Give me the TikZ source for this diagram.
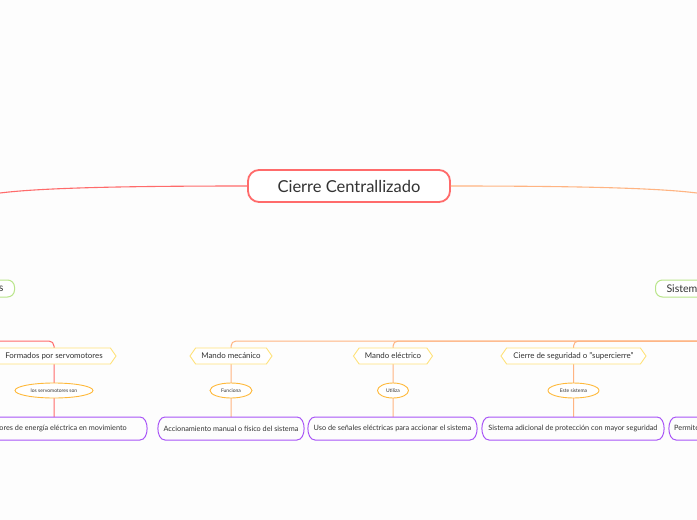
\documentclass[tikz,border=0pt]{standalone}
\usepackage{fontspec}
\setmainfont{Lato}
\usetikzlibrary{shapes.geometric,shapes.symbols,calc}
\definecolor{bgc}{HTML}{FDFDFD}
\definecolor{redc}{HTML}{FF6B6B}
\definecolor{orc}{HTML}{FFB482}
\definecolor{grc}{HTML}{B9E58A}
\definecolor{yelc}{HTML}{FFE27A}
\definecolor{elc}{HTML}{FFB93A}
\definecolor{purc}{HTML}{A855F7}
\definecolor{txt}{HTML}{333333}
\begin{document}
\begin{tikzpicture}[x=1pt,y=-1pt,
  every node/.style={text=txt},
  central/.style={draw=redc,line width=1.8pt,rounded corners=11pt,fill=white,minimum width=202pt,minimum height=32pt,font=\fontsize{16.5}{18}\selectfont,inner sep=0pt},
  greenbox/.style={draw=grc,line width=1pt,rounded corners=7pt,fill=white,minimum height=17pt,font=\fontsize{10.6}{12}\selectfont,inner xsep=11pt,inner ysep=0pt},
  hexbox/.style={draw=yelc,line width=0.9pt,fill=white,shape=signal,signal to=west and east,signal pointer angle=110,minimum height=16pt,inner ysep=0pt,inner xsep=2pt,font=\fontsize{7.9}{9}\selectfont},
  ellbox/.style={draw=elc,line width=0.9pt,fill=white,ellipse,minimum height=15pt,inner sep=0pt,font=\fontsize{5}{6}\selectfont},
  txtbox/.style={minimum height=23pt,inner sep=0pt,font=\fontsize{7.3}{9}\selectfont},
  purpline/.style={draw=purc,line width=1pt},
  redline/.style={draw=redc,line width=1.1pt},
  orline/.style={draw=orc,line width=1.1pt},
  redv/.style={draw=redc,line width=1pt},
  orv/.style={draw=orc,line width=1pt}
]
\fill[bgc] (0,0) rectangle (697,520);
\useasboundingbox (0,0) rectangle (697,520);
\begin{scope}
\clip (0,0) rectangle (697,520);
% free ends (off canvas)
\coordinate (lcurve) at (-80,280);
\coordinate (rcurve) at (777,280);
\coordinate (lsrc) at (-30,341);
\coordinate (rsrc) at (730,341);

% central node
\node[central] (root) at (349,186) {Cierre Centrallizado};

% curves from root
\draw[redline] (root.west) .. controls (120,186) and (40,188) .. (0,193) .. controls (-40,198) and (-75,230) .. (lcurve);
\draw[orline] (root.east) .. controls (578,186) and (657,188) .. (697,193) .. controls (737,198) and (772,230) .. (rcurve);

% green level-1 nodes
\node[greenbox,anchor=east] (gl) at (15,288.5) {Componentes};
\node[greenbox,anchor=west] (gr) at (655,288.5) {Sistemas de cierre};

% connectors: left red branch
\draw[redv,rounded corners=5pt] (lsrc) -- (54,341) -- (54,417);

% orange branches
\foreach \x in {231, 393, 573.5, 760}{
  \draw[orv,rounded corners=5pt] (rsrc) -- (\x,341) -- (\x,417);
}

% hexagons
\node[hexbox,minimum width=124pt] (h0) at (54,356) {Formados por servomotores};
\node[hexbox,minimum width=82pt] (h1) at (231,356) {Mando mecánico};
\node[hexbox,minimum width=79pt] (h2) at (393,356) {Mando eléctrico};
\node[hexbox,minimum width=145pt] (h3) at (573.5,356) {Cierre de seguridad o "supercierre"};

% ellipses
\node[ellbox,minimum width=78pt] (e0) at (54,390.5) {los servomotores son};
\node[ellbox,minimum width=42pt] (e1) at (231,390.5) {Funciona};
\node[ellbox,minimum width=31pt] (e2) at (393,390.5) {Utiliza};
\node[ellbox,minimum width=51pt] (e3) at (573.5,390.5) {Este sistema};

% bottom text boxes
\node[txtbox,anchor=east] (b0) at (127,428.5) {Transformadores de energía eléctrica en movimiento};
\node[txtbox,minimum width=146pt] (b1) at (231,428.5) {Accionamiento manual o físico del sistema};
\node[txtbox,minimum width=169pt] (b2) at (392.5,428.5) {Uso de señales eléctricas para accionar el sistema};
\node[txtbox,minimum width=182pt] (b3) at (573,428.5) {Sistema adicional de protección con mayor seguridad};
\node[txtbox,anchor=west] (b4) at (674,428.5) {Permite bloquear el sistema};

% purple outlines with bulging sides
\foreach \xa/\xb in {-60/147, 158/304, 308/477, 482/664, 669/860}{
  \draw[purpline] ($(\xa+7,417)$) -- ($(\xb-7,417)$) .. controls ($(\xb+2.5,417)$) and ($(\xb+2.5,440)$) .. ($(\xb-7,440)$)
     -- ($(\xa+7,440)$) .. controls ($(\xa-2.5,440)$) and ($(\xa-2.5,417)$) .. cycle;
}
\end{scope}
\end{tikzpicture}
\end{document}
